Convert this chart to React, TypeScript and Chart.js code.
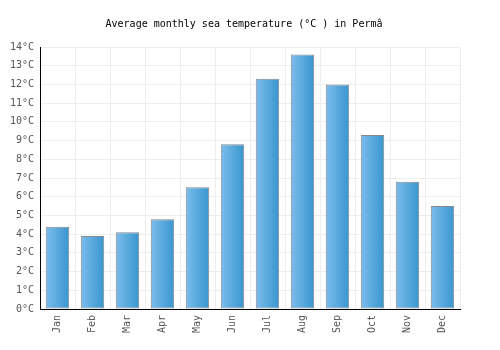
import React, { useEffect, useRef } from "react";
import { Chart, registerables } from "chart.js";

Chart.register(...registerables);

const months = ["Jan", "Feb", "Mar", "Apr", "May", "Jun", "Jul", "Aug", "Sep", "Oct", "Nov", "Dec"];
const seaTemp = [4.4, 3.9, 4.1, 4.8, 6.5, 8.8, 12.3, 13.6, 12.0, 9.3, 6.8, 5.5];
const titleText = "Average monthly sea temperature (°C ) in Permâ";
const FONT = "'DejaVu Sans Mono', 'Liberation Mono', monospace";

const BAR_PCT = 0.67;

export default function App() {
  const ref = useRef<HTMLCanvasElement | null>(null);
  useEffect(() => {
    if (!ref.current) return;
    const titlePlugin = {
      id: "customTitle",
      afterDraw(chart: any) {
        const c = chart.ctx;
        c.save();
        c.font = `10px ${FONT}`;
        c.fillStyle = "#000";
        c.textAlign = "center";
        c.textBaseline = "middle";
        c.fillText(titleText, 244, 24);
        c.restore();
      },
    };
    const chart = new Chart(ref.current, {
      type: "bar",
      data: {
        labels: months,
        datasets: [
          {
            data: seaTemp,
            borderColor: "#888888",
            borderWidth: 1,
            borderSkipped: false,
            barPercentage: BAR_PCT,
            categoryPercentage: 1,
            backgroundColor: (ctx: any) => {
              const chart = ctx.chart;
              const area = chart.chartArea;
              const xs = chart.scales.x;
              if (!area || !xs || ctx.dataIndex === undefined) return "#5aa8de";
              const cx = xs.getPixelForValue(ctx.dataIndex);
              const hw = ((area.right - area.left) / months.length) * BAR_PCT / 2;
              const g = chart.ctx.createLinearGradient(cx - hw, 0, cx + hw, 0);
              g.addColorStop(0, "#7cbcec");
              g.addColorStop(1, "#3896ce");
              return g;
            },
          },
        ],
      },
      options: {
        animation: false,
        responsive: false,
        maintainAspectRatio: false,
        layout: { padding: { top: 47, right: 40, left: 0, bottom: 0 } },
        plugins: { legend: { display: false }, title: { display: false }, tooltip: { enabled: false } },
        scales: {
          x: {
            offset: true,
            grid: { color: "#eeeeee", offset: true, drawTicks: false },
            border: { color: "#000000", width: 1 },
            ticks: {
              color: "#555",
              font: { family: FONT, size: 10 },
              maxRotation: 90,
              minRotation: 90,
              padding: 6,
            },
            afterFit: (s: any) => {
              s.height = 41;
            },
          },
          y: {
            min: 0,
            max: 14,
            grid: { color: "#eeeeee", drawTicks: false },
            border: { color: "#000000", width: 1 },
            ticks: {
              stepSize: 1,
              color: "#555",
              font: { family: FONT, size: 10 },
              padding: 6,
              callback: (v: any) => `${v}°C`,
            },
            afterFit: (s: any) => {
              s.width = 40;
            },
          },
        },
      },
      plugins: [titlePlugin],
    });
    return () => chart.destroy();
  }, []);
  return (
    <div style={{ position: "fixed", left: 0, top: 0, width: 500, height: 350, background: "#fff" }}>
      <canvas ref={ref} width={500} height={350} style={{ width: 500, height: 350 }} />
    </div>
  );
}
